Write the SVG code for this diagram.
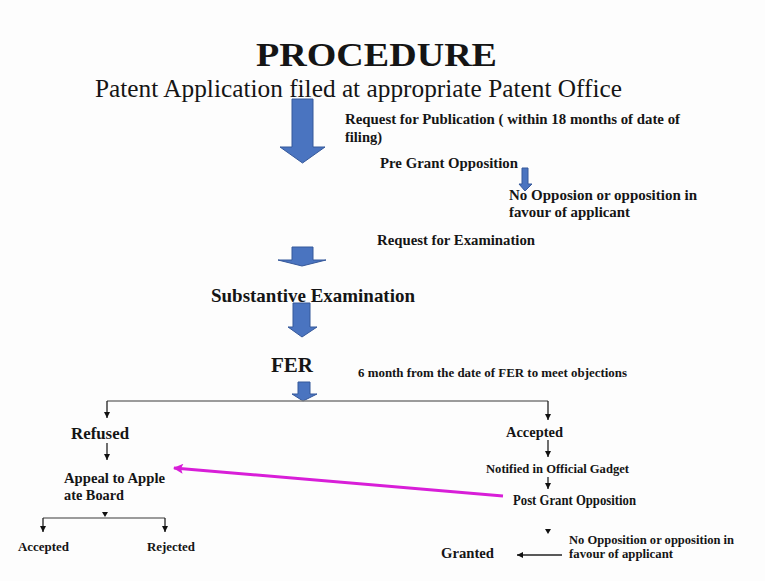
<svg xmlns="http://www.w3.org/2000/svg" width="765" height="581" viewBox="0 0 765 581">
<style>
text{font-family:"Liberation Serif","Times New Roman",serif;fill:#151515;font-weight:bold}
.reg{font-weight:normal}
.blk{fill:#4a74c0;stroke:#35589a;stroke-width:1}
.ln{stroke:#222;stroke-width:1.3;fill:none}
.gl{stroke:#7a7a7a;stroke-width:1.6;fill:none}
</style>
<defs>
<marker id="ah" viewBox="0 0 10 10" refX="10" refY="5" markerWidth="6" markerHeight="6" markerUnits="userSpaceOnUse" orient="auto"><path d="M0 0L10 5L0 10Z" fill="#111"/></marker>
<marker id="mh" viewBox="0 0 10 10" refX="9" refY="5" markerWidth="14" markerHeight="10" markerUnits="userSpaceOnUse" orient="auto"><path d="M0 0L10 5L0 10L2 5Z" fill="#d81ed8"/></marker>
</defs>
<rect width="765" height="581" fill="#fdfdfd"/>
<g id="connectors">
<path class="blk" d="M292 99H313V147H325L302.5 163L280 147H292Z"/>
<path class="blk" d="M522 168H528V184H532L525 191L519 184H522Z"/>
<path class="blk" d="M292 247H313V260H326L302 266L278 260H292Z"/>
<path class="blk" d="M293 303H310V327H317L302 337L288 327H293Z"/>
<path class="blk" d="M298 382H310V394H317L303 401L292 394H298Z"/>
<path class="gl" d="M107 401H548"/>
<path class="ln" d="M107 401V418" marker-end="url(#ah)"/>
<path class="ln" d="M548 401V420" marker-end="url(#ah)"/>
<path class="ln" d="M107 443V460" marker-end="url(#ah)"/>
<path d="M102 512H108L105 517Z" fill="#111"/>
<path class="gl" d="M43 518H165"/>
<path class="ln" d="M43 518V532" marker-end="url(#ah)"/>
<path class="ln" d="M165 518V532" marker-end="url(#ah)"/>
<path class="ln" d="M548 440V457" marker-end="url(#ah)"/>
<path class="ln" d="M548 477V489" marker-end="url(#ah)"/>
<path d="M545 529H551L548 534Z" fill="#111"/>
<path class="ln" d="M562 555H517" marker-end="url(#ah)"/>
<path d="M503 496L174 468" stroke="#d81ed8" stroke-width="3" fill="none" marker-end="url(#mh)"/>
</g>
<g id="title"><text x="256" y="66" font-size="34" textLength="241" lengthAdjust="spacingAndGlyphs">PROCEDURE</text></g>
<g id="filed"><text class="reg" x="95" y="97" font-size="26" textLength="527" lengthAdjust="spacingAndGlyphs">Patent Application filed at appropriate Patent Office</text></g>
<g id="publication"><text x="345" y="124" font-size="14" textLength="335" lengthAdjust="spacingAndGlyphs">Request for Publication ( within 18 months of date of</text><text x="345" y="142" font-size="14" textLength="37" lengthAdjust="spacingAndGlyphs">filing)</text></g>
<g id="pregrant"><text x="380" y="168" font-size="14" textLength="138" lengthAdjust="spacingAndGlyphs">Pre Grant Opposition</text></g>
<g id="noopp1"><text x="509" y="200" font-size="14" textLength="188" lengthAdjust="spacingAndGlyphs">No Opposion or opposition in</text><text x="509" y="217" font-size="14" textLength="121" lengthAdjust="spacingAndGlyphs">favour of applicant</text></g>
<g id="reqexam"><text x="377" y="245" font-size="14" textLength="158" lengthAdjust="spacingAndGlyphs">Request for Examination</text></g>
<g id="subexam"><text x="211" y="302" font-size="19" textLength="204" lengthAdjust="spacingAndGlyphs">Substantive Examination</text></g>
<g id="fer"><text x="271" y="372" font-size="20" textLength="42" lengthAdjust="spacingAndGlyphs">FER</text></g>
<g id="sixmonth"><text x="358" y="377" font-size="12" textLength="269" lengthAdjust="spacingAndGlyphs">6 month from the date of FER to meet objections</text></g>
<g id="refused"><text x="71" y="439" font-size="17" textLength="58" lengthAdjust="spacingAndGlyphs">Refused</text></g>
<g id="appeal"><text x="64" y="483" font-size="15" textLength="101" lengthAdjust="spacingAndGlyphs">Appeal to Apple</text><text x="64" y="500" font-size="15" textLength="60" lengthAdjust="spacingAndGlyphs">ate Board</text></g>
<g id="accepted-left"><text x="18" y="551" font-size="13" textLength="51" lengthAdjust="spacingAndGlyphs">Accepted</text></g>
<g id="rejected"><text x="147" y="551" font-size="13" textLength="48" lengthAdjust="spacingAndGlyphs">Rejected</text></g>
<g id="accepted"><text x="506" y="437" font-size="15" textLength="57" lengthAdjust="spacingAndGlyphs">Accepted</text></g>
<g id="notified"><text x="486" y="473" font-size="13" textLength="143" lengthAdjust="spacingAndGlyphs">Notified in Official Gadget</text></g>
<g id="postgrant"><text x="513" y="505" font-size="14" textLength="123" lengthAdjust="spacingAndGlyphs">Post Grant Opposition</text></g>
<g id="noopp2"><text x="569" y="544" font-size="13" textLength="165" lengthAdjust="spacingAndGlyphs">No Opposition or opposition in</text><text x="569" y="558" font-size="13" textLength="104" lengthAdjust="spacingAndGlyphs">favour of applicant</text></g>
<g id="granted"><text x="441" y="558" font-size="15" textLength="53" lengthAdjust="spacingAndGlyphs">Granted</text></g>
</svg>
